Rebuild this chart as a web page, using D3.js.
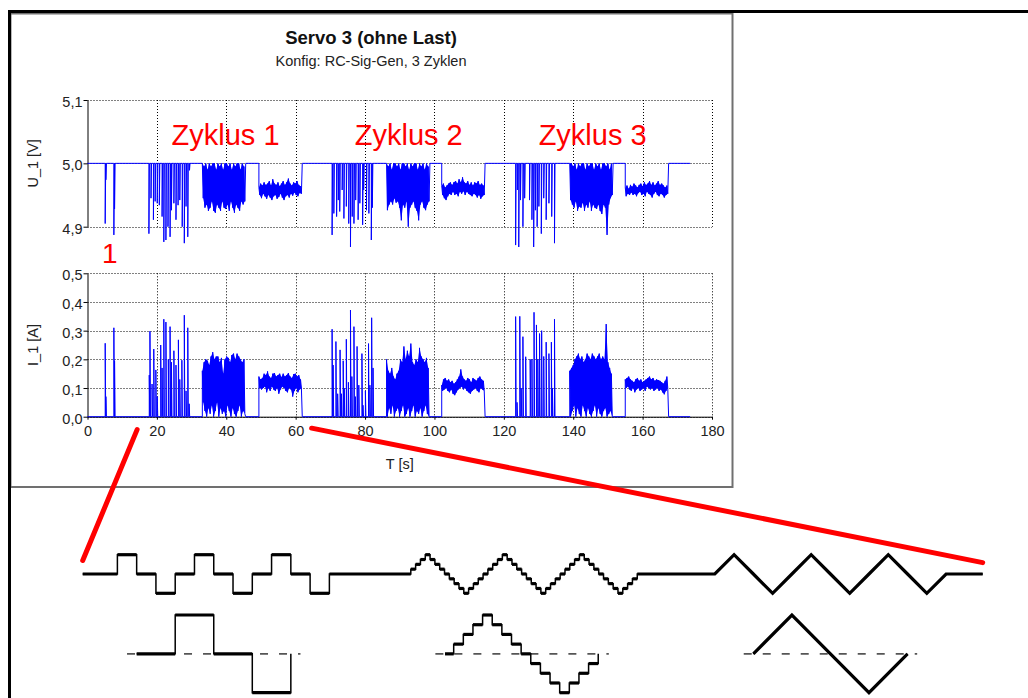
<!DOCTYPE html>
<html>
<head>
<meta charset="utf-8">
<script src="https://cdn.jsdelivr.net/npm/d3@7"></script>
<style>
  html, body { margin: 0; padding: 0; background: #fff; }
  svg { display: block; font-family: "Liberation Sans", Arial, sans-serif; }
</style>
</head>
<body>
<svg id="chart" width="1028" height="698"></svg>
<script>
// ---------------- Messdaten: Servo 3 (ohne Last), RC-Sig-Gen, 3 Zyklen ----------------
const timeTicks = [0, 20, 40, 60, 80, 100, 120, 140, 160, 180];
const uTicks = [4.9, 5.0, 5.1];
const iTicks = [0.0, 0.1, 0.2, 0.3, 0.4, 0.5];
const uRest = 5.0;
const iRest = 0.0;
const traceEnd = 173.7;

// Einzelimpulse [Zeit s, Spannungsminimum V]
const uPulses = [
  [5.1, 4.905], [5.3, 4.974], [7.6, 4.887], [7.8, 4.928],
  [17.7, 4.889], [18.3, 4.945], [19.0, 4.911], [19.5, 4.940], [20.1, 4.937], [20.7, 4.934],
  [21.5, 4.916], [22.0, 4.876], [22.6, 4.879], [23.2, 4.900], [23.8, 4.884], [24.2, 4.926],
  [24.9, 4.937], [25.5, 4.911], [26.1, 4.934], [26.6, 4.942], [27.3, 4.900], [27.9, 4.874],
  [28.4, 4.932], [28.9, 4.884], [29.4, 4.989],
  [70.5, 4.887], [71.0, 4.921], [71.8, 4.916], [72.3, 4.942], [72.7, 4.924], [73.4, 4.958],
  [73.9, 4.913], [74.6, 4.932], [75.3, 4.905], [75.8, 4.868], [76.3, 4.916], [76.8, 4.905],
  [77.3, 4.942], [78.0, 4.911], [78.5, 4.937], [79.3, 4.903], [79.6, 4.958], [80.4, 4.926],
  [81.1, 4.921], [81.8, 4.879], [82.1, 4.930],
  [123.4, 4.871], [123.9, 4.958], [124.3, 4.868], [124.8, 4.942], [125.5, 4.900], [126.0, 4.945],
  [127.4, 4.942], [128.1, 4.911], [128.6, 4.868], [129.1, 4.926], [129.6, 4.900], [130.1, 4.932],
  [130.8, 4.889], [131.5, 4.945], [132.2, 4.911], [133.0, 4.937], [133.8, 4.916], [134.6, 4.874]
];

// Einzelimpulse [Zeit s, Stromspitze A]
const iPulses = [
  [5.1, 0.256], [5.3, 0.070], [7.6, 0.310], [7.8, 0.195],
  [17.8, 0.145], [18.0, 0.298], [18.6, 0.114], [19.1, 0.236], [19.7, 0.163], [20.1, 0.070],
  [21.1, 0.250], [21.5, 0.170], [22.0, 0.340], [22.6, 0.330], [23.3, 0.200], [23.8, 0.314],
  [24.2, 0.190], [24.9, 0.230], [25.5, 0.180], [26.2, 0.268], [26.6, 0.130], [27.2, 0.197],
  [27.9, 0.354], [28.4, 0.090], [28.9, 0.310], [29.3, 0.045],
  [70.5, 0.305], [70.8, 0.180], [71.6, 0.262], [72.1, 0.080], [72.8, 0.233], [73.2, 0.080],
  [73.7, 0.195], [74.0, 0.100], [74.6, 0.270], [75.2, 0.120], [75.8, 0.372], [76.2, 0.140],
  [76.8, 0.314], [77.2, 0.070], [77.7, 0.245], [78.2, 0.110], [79.1, 0.220], [79.4, 0.040],
  [80.1, 0.090], [81.0, 0.255], [81.4, 0.110], [81.9, 0.345], [82.3, 0.170],
  [123.4, 0.349], [123.8, 0.050], [124.6, 0.350], [125.0, 0.100], [125.5, 0.279], [126.3, 0.209],
  [127.6, 0.200], [128.1, 0.200], [128.7, 0.364], [129.4, 0.320], [129.8, 0.200], [130.3, 0.290],
  [130.9, 0.300], [131.5, 0.210], [132.2, 0.260], [133.0, 0.220], [133.7, 0.260], [134.0, 0.100],
  [134.6, 0.340]
];

// Dichte Abschnitte: Startzeit, Max/Min-Huellkurve je 0,5 s
const burstStart = [33.1, 49.4, 86.2, 102.1, 139.0, 155.0];
const burstStep = 0.5;

const uBurstMax = [
  [5.0, 4.995, 5.0, 4.99, 5.0, 4.995, 5.0, 5.0, 4.99, 5.0, 4.995, 5.0, 4.99, 5.0, 5.0, 4.995, 5.0, 4.99, 5.0, 4.995, 5.0, 5.0, 4.99, 5.0, 4.995],
  [4.962, 4.968, 4.965, 4.970, 4.966, 4.968, 4.972, 4.965, 4.975, 4.968, 4.966, 4.970, 4.964, 4.968, 4.972, 4.966, 4.970, 4.976, 4.968, 4.965, 4.970, 4.968, 4.972, 4.966, 4.964],
  [5.0, 4.995, 5.0, 4.99, 5.0, 5.0, 4.995, 5.0, 4.99, 5.0, 5.0, 4.995, 5.0, 4.99, 5.0, 4.995, 5.0, 5.0, 4.99, 5.0, 4.995, 5.0, 4.99, 5.0, 4.995],
  [4.965, 4.968, 4.962, 4.965, 4.968, 4.970, 4.966, 4.970, 4.972, 4.968, 4.975, 4.970, 4.978, 4.970, 4.968, 4.972, 4.966, 4.970, 4.965, 4.970, 4.968, 4.972, 4.966, 4.968, 4.965],
  [5.0, 5.0, 4.995, 5.0, 4.99, 5.0, 4.995, 5.0, 5.0, 4.99, 5.0, 4.995, 5.0, 5.0, 4.99, 5.0, 4.995, 5.0, 4.99, 5.0, 5.0, 4.995, 5.0, 4.99, 5.0],
  [4.962, 4.965, 4.960, 4.966, 4.963, 4.968, 4.965, 4.962, 4.966, 4.968, 4.964, 4.970, 4.966, 4.968, 4.972, 4.966, 4.970, 4.965, 4.968, 4.972, 4.966, 4.968, 4.965, 4.962, 4.965]
];
const uBurstMin = [
  [4.945, 4.930, 4.935, 4.925, 4.930, 4.940, 4.925, 4.922, 4.935, 4.930, 4.925, 4.940, 4.930, 4.928, 4.935, 4.925, 4.940, 4.930, 4.922, 4.935, 4.930, 4.925, 4.940, 4.935, 4.940],
  [4.950, 4.945, 4.952, 4.948, 4.944, 4.950, 4.946, 4.942, 4.948, 4.950, 4.944, 4.947, 4.952, 4.946, 4.942, 4.948, 4.950, 4.946, 4.952, 4.949, 4.954, 4.950, 4.948, 4.953, 4.952],
  [4.926, 4.935, 4.940, 4.935, 4.945, 4.938, 4.940, 4.930, 4.910, 4.935, 4.930, 4.940, 4.900, 4.930, 4.935, 4.940, 4.930, 4.925, 4.910, 4.935, 4.940, 4.930, 4.926, 4.935, 4.940],
  [4.950, 4.945, 4.942, 4.948, 4.952, 4.950, 4.955, 4.950, 4.952, 4.948, 4.955, 4.952, 4.956, 4.950, 4.955, 4.952, 4.950, 4.948, 4.952, 4.950, 4.946, 4.950, 4.944, 4.948, 4.950],
  [4.942, 4.935, 4.930, 4.940, 4.925, 4.932, 4.930, 4.938, 4.925, 4.935, 4.930, 4.940, 4.925, 4.935, 4.930, 4.928, 4.935, 4.925, 4.920, 4.935, 4.930, 4.887, 4.935, 4.945, 4.950],
  [4.948, 4.952, 4.950, 4.954, 4.950, 4.952, 4.948, 4.953, 4.955, 4.950, 4.952, 4.948, 4.955, 4.952, 4.950, 4.946, 4.952, 4.955, 4.950, 4.948, 4.952, 4.950, 4.946, 4.950, 4.952]
];

const iBurstMax = [
  [0.160, 0.190, 0.200, 0.195, 0.180, 0.210, 0.225, 0.200, 0.210, 0.210, 0.190, 0.205, 0.150, 0.200, 0.210, 0.205, 0.190, 0.215, 0.220, 0.200, 0.220, 0.210, 0.200, 0.190, 0.200],
  [0.140, 0.130, 0.135, 0.150, 0.145, 0.158, 0.140, 0.135, 0.150, 0.152, 0.140, 0.145, 0.150, 0.138, 0.150, 0.140, 0.145, 0.152, 0.140, 0.135, 0.148, 0.150, 0.140, 0.145, 0.130],
  [0.200, 0.160, 0.150, 0.170, 0.140, 0.130, 0.150, 0.160, 0.200, 0.190, 0.245, 0.200, 0.230, 0.210, 0.255, 0.190, 0.180, 0.200, 0.190, 0.240, 0.210, 0.200, 0.190, 0.205, 0.170],
  [0.110, 0.130, 0.135, 0.125, 0.130, 0.120, 0.125, 0.115, 0.120, 0.130, 0.140, 0.165, 0.140, 0.130, 0.125, 0.135, 0.130, 0.120, 0.135, 0.130, 0.125, 0.135, 0.140, 0.130, 0.125],
  [0.160, 0.170, 0.180, 0.200, 0.210, 0.220, 0.200, 0.210, 0.190, 0.200, 0.220, 0.210, 0.200, 0.220, 0.210, 0.200, 0.210, 0.220, 0.200, 0.210, 0.200, 0.323, 0.190, 0.170, 0.150],
  [0.130, 0.135, 0.140, 0.130, 0.125, 0.120, 0.130, 0.135, 0.125, 0.130, 0.120, 0.125, 0.130, 0.135, 0.140, 0.130, 0.135, 0.125, 0.130, 0.128, 0.125, 0.120, 0.115, 0.125, 0.140]
];
const iBurstMin = [
  [0.050, 0.020, 0.000, 0.030, 0.010, 0.040, 0.000, 0.020, 0.050, 0.000, 0.030, 0.010, 0.020, 0.000, 0.040, 0.020, 0.000, 0.030, 0.010, 0.000, 0.020, 0.040, 0.000, 0.020, 0.010],
  [0.100, 0.095, 0.100, 0.105, 0.085, 0.100, 0.090, 0.105, 0.095, 0.090, 0.100, 0.080, 0.095, 0.105, 0.100, 0.090, 0.085, 0.100, 0.095, 0.070, 0.090, 0.100, 0.085, 0.095, 0.100],
  [0.000, 0.030, 0.010, 0.040, 0.000, 0.020, 0.030, 0.000, 0.020, 0.040, 0.000, 0.010, 0.030, 0.000, 0.020, 0.040, 0.000, 0.020, 0.010, 0.030, 0.000, 0.020, 0.040, 0.010, 0.000],
  [0.090, 0.095, 0.100, 0.090, 0.085, 0.095, 0.080, 0.075, 0.085, 0.095, 0.100, 0.105, 0.095, 0.100, 0.090, 0.085, 0.080, 0.090, 0.095, 0.100, 0.090, 0.085, 0.100, 0.095, 0.090],
  [0.000, 0.020, 0.040, 0.000, 0.030, 0.010, 0.000, 0.040, 0.020, 0.000, 0.030, 0.010, 0.000, 0.020, 0.040, 0.000, 0.030, 0.010, 0.000, 0.020, 0.030, 0.000, 0.010, 0.020, 0.000],
  [0.100, 0.105, 0.095, 0.090, 0.100, 0.085, 0.095, 0.100, 0.090, 0.095, 0.100, 0.090, 0.105, 0.100, 0.095, 0.100, 0.090, 0.095, 0.100, 0.090, 0.095, 0.085, 0.078, 0.090, 0.100]
];

// Beschriftung der Zyklen (Mitte in s)
const cycleLabels = ["Zyklus 1", "Zyklus 2", "Zyklus 3"];
const cycleCenters = [39.8, 92.6, 145.6];
const cycleLabelLevel = 5.029;
const firstPulseLabel = { text: "1", t: 6.4, u: 4.843 };

// Signalformen der RC-Signale, Pegel je Viertelperiode
const squarePeriod = [0, 1, 0, -1];
const stairPeriod = [0, 0.25, 0.5, 0.75, 1, 0.75, 0.5, 0.25, 0, -0.25, -0.5, -0.75, -1, -0.75, -0.5, -0.25];
const rampPeriod = [0, 1, 0, -1];
const stairLag = 0.1;
const rowCycles = 3;
const rowSections = [-1, 15, 31];      // Beginn Rechteck / Treppe / Dreieck (Viertelperioden)
const rowSpan = [-1.8, 44.9];
const detailSections = [1, 17, 33];    // Einzelperioden, doppelt gross
const detailScale = 2;
const detailDash = [-0.25, 4.25];

// Verbindungslinien Zeitachse -> Signalform [t s, I-Hoehe, Viertelperiode, Pegel]
const connectors = [
  [14.3, -0.045, -1.8, 0.7],
  [64.6, -0.040, 44.9, 0.59]
];

// ---------------- Aufbau ----------------
const svg = d3.select("#chart");
const de = d3.formatLocale({ decimal: ",", thousands: ".", grouping: [3], currency: ["", " €"] });
const fmt1 = de.format(".1f");

const x = d3.scaleLinear().domain([0, 180]).range([87.5, 712]);
const yU = d3.scaleLinear().domain([4.9, 5.1]).range([226.7, 100]);
const yI = d3.scaleLinear().domain([0, 0.5]).range([416.7, 273.3]);

// Rahmen
svg.append("rect").attr("x", 10.5).attr("y", 13.5).attr("width", 722).attr("height", 473.5)
  .attr("fill", "#fff").attr("stroke", "#707070").attr("stroke-width", 2);
svg.append("line").attr("x1", 8).attr("x2", 1028).attr("y1", 11.5).attr("y2", 11.5)
  .attr("stroke", "#000").attr("stroke-width", 3);
svg.append("line").attr("x1", 9.5).attr("x2", 9.5).attr("y1", 10).attr("y2", 698)
  .attr("stroke", "#000").attr("stroke-width", 3);

// Titel
svg.append("text").attr("x", 371).attr("y", 44).attr("text-anchor", "middle")
  .attr("font-size", 18.5).attr("font-weight", "bold").attr("fill", "#111").text("Servo 3 (ohne Last)");
svg.append("text").attr("x", 371).attr("y", 66).attr("text-anchor", "middle")
  .attr("font-size", 14.5).attr("fill", "#222").text("Konfig: RC-Sig-Gen, 3 Zyklen");

// Gitter und Achsen je Teildiagramm
function gridPanel(y, ticks) {
  const [y0, y1] = y.range();
  const g = svg.append("g").attr("stroke", "#000").attr("stroke-width", 1).attr("stroke-dasharray", "1,2");
  g.selectAll("line.h").data(ticks).join("line").attr("class", "h")
    .attr("x1", x(0)).attr("x2", x(180)).attr("y1", d => Math.round(y(d)) + 0.5).attr("y2", d => Math.round(y(d)) + 0.5);
  g.selectAll("line.v").data(timeTicks.filter(t => t > 0)).join("line").attr("class", "v")
    .attr("x1", d => Math.round(x(d)) + 0.5).attr("x2", d => Math.round(x(d)) + 0.5).attr("y1", y1).attr("y2", y0);
}
gridPanel(yU, uTicks);
gridPanel(yI, iTicks);

function leftAxis(y, ticks) {
  const g = svg.append("g").attr("transform", `translate(${x(0)},0)`)
    .call(d3.axisLeft(y).tickValues(ticks).tickFormat(fmt1).tickSize(4).tickSizeOuter(0).tickPadding(1));
  g.attr("font-family", null).attr("font-size", 14.5);
  g.selectAll("text").attr("fill", "#222").attr("dy", "0.45em");
  g.selectAll("line, path").attr("stroke", "#000");
  return g;
}
leftAxis(yU, uTicks);
leftAxis(yI, iTicks);

const xAxisG = svg.append("g").attr("transform", `translate(0,${yI(0)})`)
  .call(d3.axisBottom(x).tickValues(timeTicks).tickFormat(d3.format("d")).tickSize(3).tickSizeOuter(0).tickPadding(6));
xAxisG.attr("font-family", null).attr("font-size", 14.5);
xAxisG.selectAll("text").attr("fill", "#222");
xAxisG.selectAll("line, path").attr("stroke", "#000");

// Achsentitel
svg.append("text").attr("x", (x(0) + x(180)) / 2).attr("y", 469).attr("text-anchor", "middle")
  .attr("font-size", 14.5).attr("fill", "#222").text("T [s]");
svg.append("text").attr("transform", `translate(38,${(yU(4.9) + yU(5.1)) / 2}) rotate(-90)`)
  .attr("text-anchor", "middle").attr("font-size", 14.5).attr("fill", "#222").text("U_1 [V]");
svg.append("text").attr("transform", `translate(38,${(yI(0) + yI(0.5)) / 2}) rotate(-90)`)
  .attr("text-anchor", "middle").attr("font-size", 14.5).attr("fill", "#222").text("I_1 [A]");

// Messkurven aus Impulsen und dichten Abschnitten zusammensetzen
function buildTrace(pulses, bMax, bMin, rest) {
  const events = [];
  pulses.forEach(([t, v]) => events.push({ t, pts: [[t, rest], [t, v], [t + 0.15, rest]] }));
  burstStart.forEach((t0, k) => {
    const pts = [[t0, rest]];
    bMax[k].forEach((hi, i) => {
      pts.push([t0 + i * burstStep, hi]);
      pts.push([t0 + (i + 0.5) * burstStep, bMin[k][i]]);
    });
    pts.push([t0 + bMax[k].length * burstStep, rest]);
    events.push({ t: t0, pts });
  });
  events.sort((a, b) => a.t - b.t);
  const out = [[0, rest]];
  events.forEach(e => out.push(...e.pts));
  out.push([traceEnd, rest]);
  return out;
}

// Huellflaeche der dichten Abschnitte (Min/Max je Intervall)
function burstBands(bMax, bMin) {
  return burstStart.map((t0, k) => {
    const top = bMax[k].map((hi, i) => [t0 + i * burstStep, hi]);
    const bottom = bMin[k].map((lo, i) => [t0 + (i + 0.5) * burstStep, lo]).reverse();
    return top.concat(bottom);
  });
}

const uLine = d3.line().x(d => x(d[0])).y(d => yU(d[1]));
const iLine = d3.line().x(d => x(d[0])).y(d => yI(d[1]));

svg.append("g").selectAll("path").data(burstBands(uBurstMax, uBurstMin)).join("path")
  .attr("d", d => uLine(d) + "Z").attr("fill", "#0000ff");
svg.append("g").selectAll("path").data(burstBands(iBurstMax, iBurstMin)).join("path")
  .attr("d", d => iLine(d) + "Z").attr("fill", "#0000ff");

svg.append("path").attr("d", uLine(buildTrace(uPulses, uBurstMax, uBurstMin, uRest)))
  .attr("fill", "none").attr("stroke", "#0000ff").attr("stroke-width", 1);
svg.append("path").attr("d", iLine(buildTrace(iPulses, iBurstMax, iBurstMin, iRest)))
  .attr("fill", "none").attr("stroke", "#0000ff").attr("stroke-width", 1);

// Rote Beschriftungen
svg.selectAll("text.cyc").data(cycleLabels).join("text").attr("class", "cyc")
  .attr("x", (d, i) => x(cycleCenters[i])).attr("y", yU(cycleLabelLevel))
  .attr("text-anchor", "middle").attr("font-size", 29).attr("fill", "#ff0000").text(d => d);
svg.append("text").attr("x", x(firstPulseLabel.t)).attr("y", yU(firstPulseLabel.u))
  .attr("text-anchor", "middle").attr("font-size", 28).attr("fill", "#ff0000").text(firstPulseLabel.text);

// ---------------- Signalformen ----------------
const q = d3.scaleLinear().domain(rowSpan).range([82.7, 982.7]);
const levelTop = d3.scaleLinear().domain([-1, 1]).range([593.3, 554.7]);
const levelDetail = d3.scaleLinear().domain([-1, 1]).range([692.7, 615]);

function squareShape(periods) {
  const pts = [];
  for (let p = 0; p < periods; p++) {
    squarePeriod.forEach((lv, k) => { const s = p * 4 + k; pts.push([s, lv], [s + 1, lv]); });
  }
  pts.push([periods * 4, 0]);
  return pts;
}
function stairShape(periods) {
  const n = periods * stairPeriod.length, w = 4 / stairPeriod.length, pts = [];
  for (let k = 0; k < n; k++) {
    const lv = stairPeriod[k % stairPeriod.length];
    pts.push([Math.max(0, (k - 0.5) * w + stairLag), lv], [(k + 0.5) * w + stairLag, lv]);
  }
  pts.push([pts[pts.length - 1][0], 0]);
  return pts;
}
function rampShape(periods) {
  const pts = [];
  for (let k = 0; k <= periods * 4; k++) pts.push([k, rampPeriod[k % 4]]);
  return pts;
}
const shapes = [squareShape, stairShape, rampShape];

// Linie mit duennen Senkrechten und kraeftigen uebrigen Abschnitten
function drawWave(pts, xs, ys) {
  const line = d3.line().x(d => xs(d[0])).y(d => ys(d[1]));
  svg.append("path").attr("d", line(pts)).attr("fill", "none").attr("stroke", "#000").attr("stroke-width", 1.5);
  const runs = [];
  let cur = [pts[0]];
  for (let i = 1; i < pts.length; i++) {
    if (Math.abs(pts[i][0] - pts[i - 1][0]) < 1e-9) { if (cur.length > 1) runs.push(cur); cur = [pts[i]]; }
    else cur.push(pts[i]);
  }
  if (cur.length > 1) runs.push(cur);
  runs.forEach(r => svg.append("path").attr("d", line(r)).attr("fill", "none")
    .attr("stroke", "#000").attr("stroke-width", 3.2).attr("stroke-linejoin", "miter"));
}

// Obere Reihe: drei Signalformen mit je drei Zyklen
let rowPts = [[rowSpan[0], 0]];
shapes.forEach((fn, s) => fn(rowCycles).forEach(([u, lv]) => rowPts.push([u + rowSections[s], lv])));
rowPts.push([rowSpan[1], 0]);
drawWave(rowPts, q, levelTop);

// Untere Reihe: je eine Periode vergroessert mit Nulllinie
shapes.forEach((fn, s) => {
  const xs = u => q(detailSections[s] + u * detailScale);
  svg.append("line").attr("x1", xs(detailDash[0])).attr("x2", xs(detailDash[1]))
    .attr("y1", levelDetail(0)).attr("y2", levelDetail(0))
    .attr("stroke", "#555").attr("stroke-width", 1.6).attr("stroke-dasharray", "8,11");
  const pts = fn(1);
  drawWave(pts, xs, levelDetail);
});

// Rote Verbindungslinien
svg.selectAll("line.conn").data(connectors).join("line").attr("class", "conn")
  .attr("x1", d => x(d[0])).attr("y1", d => yI(d[1]))
  .attr("x2", d => q(d[2])).attr("y2", d => levelTop(d[3]))
  .attr("stroke", "#ff0000").attr("stroke-width", 5).attr("stroke-linecap", "round");
</script>
</body>
</html>
